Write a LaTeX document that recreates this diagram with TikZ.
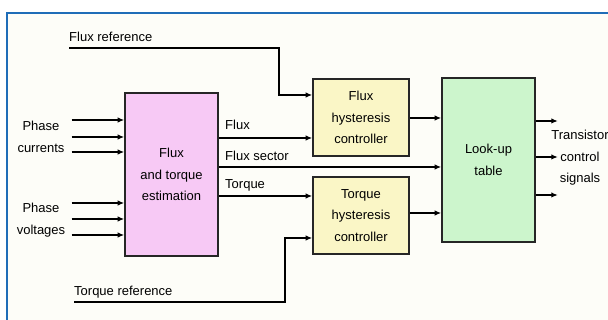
\documentclass[tikz,border=0pt]{standalone}
\usepackage{fontspec}
\setmainfont{Liberation Sans}
\usetikzlibrary{arrows.meta}
\definecolor{frameblue}{HTML}{1F6DB8}
\definecolor{paper}{HTML}{FDFDF8}
\definecolor{estpink}{HTML}{F7C9F5}
\definecolor{hystyellow}{HTML}{FAF6C6}
\definecolor{lutgreen}{HTML}{CCF5CC}

\begin{document}
\begin{tikzpicture}[x=1pt,y=-1pt,
  font=\fontsize{13}{21.5}\selectfont,
  block/.style={draw=black!85,line width=1.6pt,align=center,inner sep=0pt},
  sig/.style={line width=1.3pt,-{Latex[length=6.5pt,width=5.5pt]}},
  lbl/.style={inner sep=0pt,align=center}]
  \useasboundingbox (0,0) rectangle (608,320);
  \clip (0,0) rectangle (608,320);
  \fill[paper] (7,13) rectangle (620,330);
  \draw[frameblue,line width=2pt] (7,330) -- (7,13) -- (620,13);

  \node[block,fill=estpink,minimum width=93,minimum height=163] (est) at (171.5,174.5) {Flux\\and torque\\estimation};
  \node[block,fill=hystyellow,minimum width=96,minimum height=77] (fhyst) at (361,117.5) {Flux\\hysteresis\\controller};
  \node[block,fill=hystyellow,minimum width=96,minimum height=77] (thyst) at (361,215.5) {Torque\\hysteresis\\controller};
  \node[block,fill=lutgreen,minimum width=93,minimum height=164] (lut) at (488.5,160) {Look-up\\table};

  \node[lbl] (cur) at (41,137) {Phase\\currents};
  \node[lbl] (volt) at (41,220) {Phase\\voltages};
  \node[lbl,anchor=base west] (fref) at (69,41.5) {Flux reference};
  \node[lbl,anchor=base west] (tref) at (74,295.5) {Torque reference};
  \node[lbl,anchor=base west] (lflux) at (225,129.5) {Flux};
  \node[lbl,anchor=base west] (lsec) at (225,161) {Flux sector};
  \node[lbl,anchor=base west] (ltrq) at (225,189) {Torque};
  \node[lbl] (out) at (580,158) {Transistor\\control\\signals};

  \foreach \y in {120,137,152} \draw[sig] ([xshift=7pt]cur.east |- 0,\y) -- (est.west |- 0,\y);
  \foreach \y in {203,219,235} \draw[sig] ([xshift=7pt]cur.east |- 0,\y) -- (est.west |- 0,\y);
  \draw[sig] (est.east |- 0,138) -- (fhyst.west |- 0,138);
  \draw[sig] (est.east |- 0,167) -- (lut.west |- 0,167);
  \draw[sig] (est.east |- 0,196) -- (thyst.west |- 0,196);
  \draw[sig] (fhyst.east |- 0,118) -- (lut.west |- 0,118);
  \draw[sig] (thyst.east |- 0,213) -- (lut.west |- 0,213);
  \draw[sig] (fref.west |- 0,48) -| (279,95) -- (fhyst.west |- 0,95);
  \draw[sig] (tref.west |- 0,302) -| (285,238) -- (thyst.west |- 0,238);
  \foreach \y in {121,157,195} \draw[sig] (lut.east |- 0,\y) -- ++(22,0);
\end{tikzpicture}
\end{document}
